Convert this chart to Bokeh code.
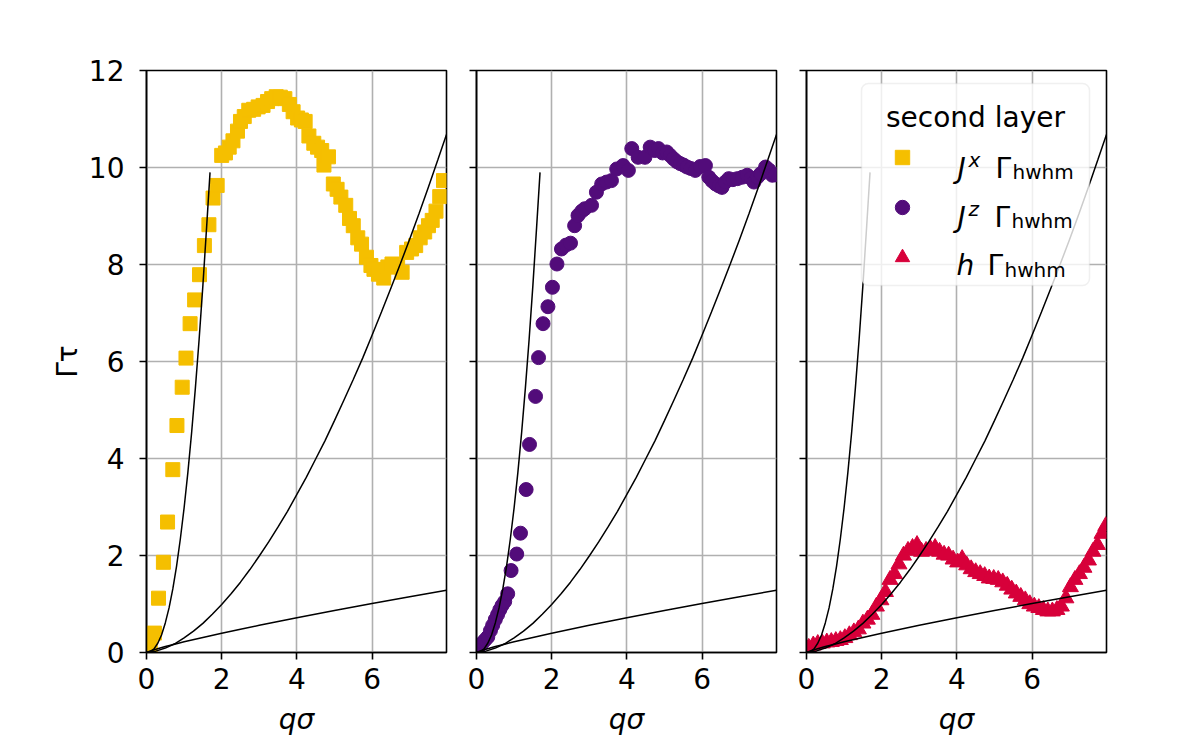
from bokeh.plotting import figure
from bokeh.layouts import row
from bokeh.models import Range1d, FixedTicker, Label, Legend, LegendItem, BoxAnnotation
from bokeh.embed import file_html
from bokeh.resources import INLINE

FONT = "DejaVu Sans"
X_MAX = 7.98
FRAME_W = 300
FRAME_H = 582

C_JX = "#f5bf00"
C_JZ = "#520c7a"
C_H = "#d7003a"

# ---------------- data ----------------
jx_q = [0.10, 0.21, 0.32, 0.45, 0.56, 0.70, 0.81, 0.95, 1.05, 1.16, 1.28, 1.41, 1.54, 1.66,
        1.77, 1.88, 2.00, 2.10, 2.20, 2.30, 2.42, 2.50, 2.60, 2.72, 2.85, 2.97, 3.10, 3.22,
        3.33, 3.45, 3.56, 3.68, 3.80, 3.90, 4.02, 4.12, 4.22, 4.32, 4.45, 4.55, 4.66, 4.72,
        4.84, 4.97, 5.07, 5.17, 5.30, 5.40, 5.50, 5.62, 5.72, 5.85, 5.97, 6.05, 6.17, 6.31,
        6.42, 6.53, 6.68, 6.80, 6.92, 7.05, 7.16, 7.28, 7.40, 7.50, 7.60, 7.70, 7.80, 7.90]
jx_gamma = [0.14, 0.40, 1.12, 1.86, 2.69, 3.77, 4.68, 5.47, 6.07, 6.78, 7.27, 7.79, 8.39, 8.82,
            9.37, 9.63, 10.25, 10.30, 10.42, 10.55, 10.75, 10.95, 11.05, 11.18, 11.20, 11.25,
            11.28, 11.36, 11.42, 11.46, 11.45, 11.42, 11.30, 11.15, 11.02, 10.98, 10.95, 10.65,
            10.50, 10.42, 10.35, 10.05, 10.22, 9.66, 9.55, 9.39, 9.22, 8.95, 8.80, 8.55, 8.42,
            8.15, 7.98, 7.90, 7.80, 7.72, 7.95, 8.01, 7.95, 7.84, 8.25, 8.32, 8.39, 8.55, 8.67,
            8.80, 8.91, 9.10, 9.40, 9.73]

jz_q = [0.03, 0.10, 0.16, 0.23, 0.30, 0.37, 0.43, 0.50, 0.56, 0.62, 0.68, 0.75, 0.83, 0.92,
        1.07, 1.17, 1.32, 1.41, 1.57, 1.65, 1.77, 1.90, 2.02, 2.14, 2.26, 2.38, 2.50, 2.61,
        2.70, 2.80, 2.88, 3.06, 3.19, 3.33, 3.46, 3.59, 3.73, 3.90, 4.04, 4.13, 4.30, 4.48,
        4.62, 4.74, 4.84, 4.95, 5.06, 5.15, 5.24, 5.33, 5.42, 5.51, 5.60, 5.70, 5.82, 5.95,
        6.09, 6.18, 6.27, 6.36, 6.45, 6.53, 6.62, 6.71, 6.82, 6.94, 7.07, 7.20, 7.30, 7.38,
        7.47, 7.56, 7.69, 7.78, 7.87, 7.95]
jz_gamma = [0.09, 0.15, 0.20, 0.26, 0.32, 0.45, 0.56, 0.68, 0.78, 0.88, 0.97, 1.05, 1.21, 1.69,
            2.03, 2.46, 3.36, 4.29, 5.28, 6.08, 6.78, 7.13, 7.53, 8.01, 8.32, 8.40, 8.44, 8.80,
            9.01, 9.10, 9.15, 9.22, 9.49, 9.66, 9.70, 9.73, 9.97, 10.04, 9.94, 10.39, 10.21,
            10.21, 10.42, 10.35, 10.39, 10.30, 10.32, 10.25, 10.18, 10.12, 10.08, 10.05, 10.01,
            9.98, 9.94, 10.02, 10.04, 9.80, 9.72, 9.66, 9.62, 9.59, 9.70, 9.77, 9.75, 9.77,
            9.80, 9.84, 9.78, 9.70, 9.80, 9.87, 10.01, 9.95, 9.84, 9.85]

h_q = [0.06, 0.18, 0.30, 0.42, 0.54, 0.66, 0.78, 0.90, 1.02, 1.14, 1.26, 1.38, 1.50, 1.62,
       1.74, 1.86, 1.98, 2.10, 2.22, 2.34, 2.46, 2.58, 2.70, 2.82, 2.94, 3.06, 3.18, 3.30,
       3.42, 3.54, 3.66, 3.78, 3.90, 4.02, 4.14, 4.26, 4.38, 4.50, 4.62, 4.74, 4.86, 4.98,
       5.10, 5.22, 5.34, 5.46, 5.58, 5.70, 5.82, 5.94, 6.06, 6.18, 6.30, 6.42, 6.54, 6.66,
       6.78, 6.90, 7.02, 7.14, 7.26, 7.38, 7.50, 7.62, 7.74, 7.86, 7.96]
h_gamma = [0.10, 0.15, 0.18, 0.19, 0.21, 0.22, 0.24, 0.26, 0.30, 0.36, 0.42, 0.48, 0.60, 0.68,
           0.78, 0.95, 1.08, 1.25, 1.50, 1.62, 1.82, 2.00, 2.10, 2.16, 2.22, 2.08, 2.10, 2.13,
           2.16, 2.08, 2.02, 2.00, 1.92, 1.86, 1.93, 1.80, 1.72, 1.66, 1.62, 1.58, 1.53, 1.52,
           1.50, 1.45, 1.38, 1.30, 1.22, 1.15, 1.08, 1.00, 0.95, 0.92, 0.88, 0.85, 0.85, 0.88,
           0.95, 1.12, 1.35, 1.50, 1.62, 1.75, 1.90, 2.08, 2.22, 2.45, 2.61]

# black guide curves
steep_q = [0.0, 0.1, 0.2, 0.3, 0.4, 0.5, 0.6, 0.7, 0.8, 0.9, 1.0, 1.1, 1.2, 1.3, 1.4,
           1.5, 1.6, 1.69]
steep_gamma = [0.0, 0.015, 0.074, 0.19, 0.36, 0.61, 0.92, 1.31, 1.78, 2.34, 2.98, 3.71,
               4.53, 5.45, 6.46, 7.57, 8.78, 9.9]

mid_q = [0.0, 0.25, 0.5, 0.75, 1.0, 1.25, 1.5, 1.75, 2.0, 2.25, 2.5, 2.75, 3.0, 3.25, 3.5,
         3.75, 4.0, 4.25, 4.5, 4.75, 5.0, 5.25, 5.5, 5.75, 6.0, 6.25, 6.5, 6.75, 7.0, 7.25,
         7.5, 7.75, 7.98]
mid_gamma = [0.0, 0.028, 0.091, 0.18, 0.30, 0.44, 0.60, 0.79, 0.99, 1.21, 1.45, 1.71, 1.99,
             2.28, 2.59, 2.91, 3.26, 3.61, 3.99, 4.37, 4.78, 5.20, 5.63, 6.07, 6.54, 7.02,
             7.51, 8.01, 8.52, 9.05, 9.60, 10.16, 10.68]

low_q = [0.0, 0.1, 0.25, 0.5, 0.75, 1.0, 1.5, 2.0, 2.5, 3.0, 3.5, 4.0, 5.0, 6.0, 7.0, 7.98]
low_gamma = [0.0, 0.031, 0.068, 0.122, 0.172, 0.22, 0.31, 0.397, 0.479, 0.56, 0.638, 0.715,
             0.864, 1.009, 1.15, 1.285]

x_ticks = [0, 2, 4, 6]
y_ticks = [0, 2, 4, 6, 8, 10, 12]

BORDER_TOP = 70


def make_fig(border_left, border_right, with_ylabels):
    p = figure(output_backend="svg", toolbar_location=None,
               frame_width=FRAME_W, frame_height=FRAME_H,
               x_range=Range1d(0, X_MAX), y_range=Range1d(0, 12),
               min_border_left=border_left, min_border_right=border_right,
               min_border_top=BORDER_TOP, min_border_bottom=70)
    p.background_fill_color = "white"
    p.border_fill_color = "white"
    p.outline_line_color = "black"
    p.outline_line_width = 1.6
    p.xaxis.ticker = FixedTicker(ticks=x_ticks)
    p.yaxis.ticker = FixedTicker(ticks=y_ticks)
    for ax in (p.xaxis, p.yaxis):
        ax.axis_line_color = "black"
        ax.axis_line_width = 1.6
        ax.major_tick_line_color = "black"
        ax.major_tick_line_width = 1.6
        ax.major_tick_in = 0
        ax.major_tick_out = 7
        ax.minor_tick_line_color = None
        ax.major_label_text_font = FONT
        ax.major_label_text_font_size = "28px"
        ax.major_label_text_color = "black"
        ax.axis_label_text_font = FONT
        ax.axis_label_text_font_size = "28px"
        ax.axis_label_text_color = "black"
    p.xaxis.major_label_standoff = 8
    p.xaxis.axis_label = "qσ"
    p.xaxis.axis_label_text_font_style = "italic"
    p.xaxis.axis_label_standoff = 11
    if with_ylabels:
        p.yaxis.major_label_standoff = 15
        p.yaxis.axis_label = "Γτ"
        p.yaxis.axis_label_text_font_style = "normal"
        p.yaxis.axis_label_standoff = 2
    else:
        p.yaxis.major_label_overrides = {t: "" for t in y_ticks}
        p.yaxis.major_label_standoff = 0
    for g in (p.xgrid, p.ygrid):
        g.grid_line_color = "#b0b0b0"
        g.grid_line_width = 1.6
    return p


def add_curves(p):
    for qs, gs in ((steep_q, steep_gamma), (mid_q, mid_gamma), (low_q, low_gamma)):
        p.line(qs, gs, line_color="black", line_width=1.5)


p1 = make_fig(146, 15, True)
p2 = make_fig(15, 15, False)
p3 = make_fig(15, 20, False)

p1.scatter(jx_q, jx_gamma, marker="square", size=14, fill_color=C_JX, line_color=C_JX)
p2.scatter(jz_q, jz_gamma, marker="circle", size=14, fill_color=C_JZ, line_color=C_JZ)
r_h = p3.scatter(h_q, h_gamma, marker="triangle", size=16, fill_color=C_H, line_color=C_H)

for p in (p1, p2, p3):
    add_curves(p)

# legend placement, in reference-page pixels relative to panel 3's frame
P3_LEFT = 807
P_TOP = 70


def dx(px):
    return (px - P3_LEFT) * X_MAX / FRAME_W


def dy(py):
    return (P_TOP + FRAME_H - py) * 12 / FRAME_H


# legend box (semi-transparent, rounded)
p3.add_layout(BoxAnnotation(left=dx(862), right=dx(1090), top=dy(83), bottom=dy(285),
                            fill_color="white", fill_alpha=0.8,
                            line_color="#cccccc", line_width=1.5, border_radius=7,
                            level="annotation"))

# legend swatch proxies on panel 3 (a single undefined point, never drawn in the frame)
NAN = float("nan")
proxy_sq = p3.scatter([NAN], [NAN], marker="square", size=14, fill_color=C_JX, line_color=C_JX)
proxy_ci = p3.scatter([NAN], [NAN], marker="circle", size=14, fill_color=C_JZ, line_color=C_JZ)

legend = Legend(
    items=[LegendItem(label=" ", renderers=[proxy_sq]),
           LegendItem(label=" ", renderers=[proxy_ci]),
           LegendItem(label=" ", renderers=[r_h])],
    location=(55, 367), title=" ", title_text_font_size="28px", title_standoff=13,
    padding=10, spacing=14, margin=0,
    glyph_width=62, glyph_height=36, label_width=122, label_height=36, label_standoff=24,
    label_text_font_size="20px",
    background_fill_alpha=0.0, border_line_alpha=0.0,
)
p3.add_layout(legend)


def add_text(px, py, text, size, style="normal", align="left"):
    p3.add_layout(Label(x=dx(px), y=dy(py), text=text, text_font=FONT,
                        text_font_size=size, text_font_style=style,
                        text_align=align, text_baseline="alphabetic",
                        text_color="black", level="overlay"))


add_text(976, 117, "second layer", "28px", align="center")
add_text(958, 168, "J", "28px", "italic")
add_text(969, 159, "x", "20px", "italic")
add_text(996, 168, "Γ", "28px")
add_text(1013, 171, "hwhm", "20px")
add_text(958, 217, "J", "28px", "italic")
add_text(969, 208, "z", "20px", "italic")
add_text(995, 217, "Γ", "28px")
add_text(1012, 220, "hwhm", "20px")
add_text(957, 265, "h", "28px", "italic")
add_text(988, 265, "Γ", "28px")
add_text(1005, 269, "hwhm", "20px")

layout = row(p1, p2, p3)
open("out.html", "w").write(file_html(layout, INLINE))
